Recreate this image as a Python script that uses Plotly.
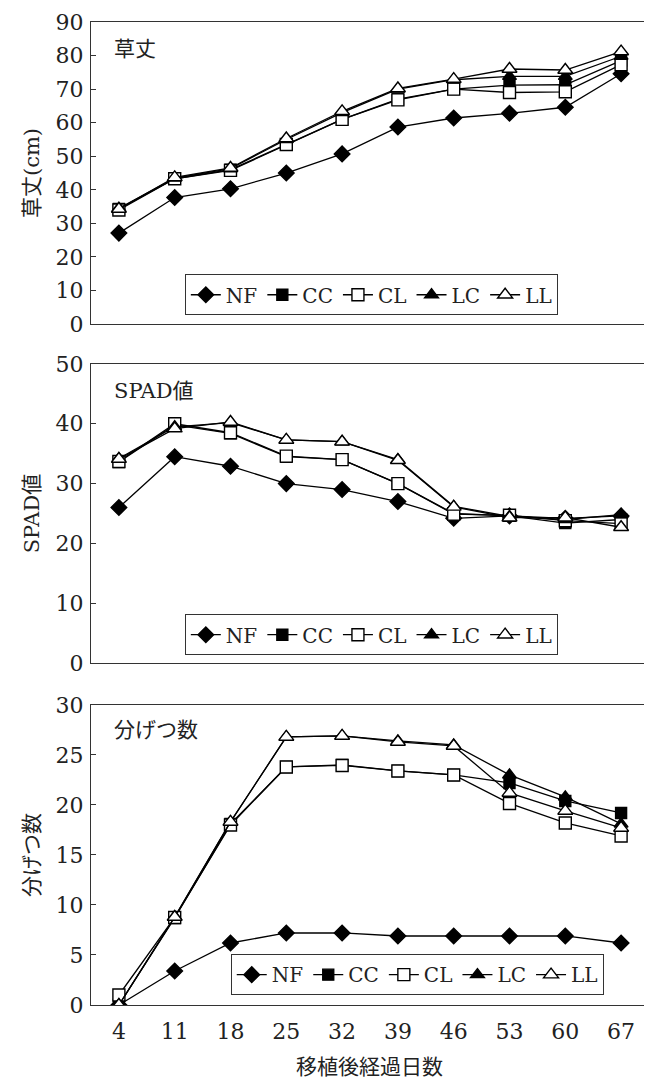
import plotly.graph_objects as go

days = ["4", "11", "18", "25", "32", "39", "46", "53", "60", "67"]
series_names = ["NF", "CC", "CL", "LC", "LL"]

# 草丈 (cm)
height_NF = [27.1, 37.7, 40.3, 45.0, 50.7, 58.7, 61.4, 62.8, 64.6, 74.6]
height_CC = [34.3, 43.3, 46.0, 53.5, 61.0, 67.0, 70.0, 71.2, 71.3, 78.5]
height_CL = [34.0, 43.3, 45.8, 53.5, 61.0, 66.8, 70.0, 69.0, 69.2, 77.3]
height_LC = [34.5, 43.5, 46.3, 55.0, 63.0, 70.0, 72.8, 73.8, 73.8, 79.8]
height_LL = [34.3, 43.7, 46.5, 55.3, 63.4, 70.2, 73.0, 76.0, 75.7, 81.2]

# SPAD値
spad_NF = [26.0, 34.5, 32.9, 30.0, 29.0, 27.0, 24.2, 24.6, 24.2, 24.6]
spad_CC = [33.6, 39.8, 38.4, 34.5, 34.0, 30.0, 25.0, 24.6, 23.4, 24.0]
spad_CL = [33.7, 40.0, 38.5, 34.6, 34.0, 30.0, 24.9, 24.7, 23.8, 23.3]
spad_LC = [34.2, 39.5, 40.2, 37.3, 37.0, 34.0, 26.2, 24.5, 24.0, 24.8]
spad_LL = [34.1, 39.2, 40.3, 37.3, 37.0, 33.9, 26.1, 24.3, 24.3, 22.7]

# 分げつ数
tiller_NF = [0.0, 3.4, 6.2, 7.2, 7.2, 6.9, 6.9, 6.9, 6.9, 6.2]
tiller_CC = [0.0, 8.7, 18.1, 23.8, 24.0, 23.4, 23.0, 22.2, 20.4, 19.2]
tiller_CL = [1.0, 8.75, 18.0, 23.8, 23.95, 23.4, 23.0, 20.15, 18.2, 16.9]
tiller_LC = [0.0, 8.8, 18.3, 26.8, 26.9, 26.4, 26.0, 23.0, 20.8, 18.1]
tiller_LL = [0.0, 8.8, 18.3, 26.8, 26.9, 26.3, 25.9, 21.2, 19.4, 17.7]

panels = [
    ("草丈", "草丈(cm)", [height_NF, height_CC, height_CL, height_LC, height_LL], 90, 10),
    ("SPAD値", "SPAD値", [spad_NF, spad_CC, spad_CL, spad_LC, spad_LL], 50, 10),
    ("分げつ数", "分げつ数", [tiller_NF, tiller_CC, tiller_CL, tiller_LC, tiller_LL], 30, 5),
]
x_title = "移植後経過日数"

symbols = ["diamond", "square", "square", "triangle-up", "triangle-up"]
fills = ["black", "black", "white", "black", "white"]
sizes = [12, 11, 12, 12, 13]

FONT = "'DejaVu Serif', 'Noto Sans CJK JP', serif"
OFF = 8  # page body margin
W, H = 652 - OFF, 1079 - OFF
L = 91 - OFF
T = 19 - OFF
R = W - (650 - OFF)
B = H - (1005 - OFF)
plot_h = H - T - B
plot_w = W - L - R


def py(px):
    return (H - B - (px - OFF)) / plot_h


def pxx(px):
    return (px - OFF - L) / plot_w


domains = [(py(322), py(19)), (py(662), py(362)), (py(1005), py(704))]
legend_pos = [(185, 272), (185, 613), (231, 954)]
label_y = [46, 389, 729]
TXT = "#222"

fig = go.Figure()
for i, (label, ytitle, data, ymax, dtick) in enumerate(panels):
    suffix = "" if i == 0 else str(i + 1)
    legname = "legend" + suffix
    for j, name in enumerate(series_names):
        fig.add_trace(go.Scatter(
            x=days, y=data[j], name=name, mode="lines+markers",
            xaxis="x" + suffix, yaxis="y" + suffix, legend=legname,
            line=dict(color="black", width=1.3),
            marker=dict(symbol=symbols[j], size=sizes[j], color=fills[j],
                        line=dict(color="black", width=1.4)),
        ))
    xa = dict(
        domain=[0, 1], anchor="y" + suffix, type="category",
        range=[-0.5, 9.5], showline=True, mirror=True, linecolor="#333",
        linewidth=1.3, ticks="", showgrid=False, zeroline=False,
        showticklabels=(i == 2), ticklabelstandoff=6,
        tickfont=dict(family=FONT, size=22, color=TXT),
    )
    ya = dict(
        domain=list(domains[i]), anchor="x" + suffix, range=[0, ymax], dtick=dtick,
        showline=True, mirror=True, linecolor="#333", linewidth=1.3,
        ticks="inside", ticklen=5, tickcolor="#333", showgrid=False, zeroline=False,
        tickfont=dict(family=FONT, size=22, color=TXT),
        title=dict(text=ytitle, font=dict(family=FONT, size=21, color=TXT), standoff=10),
        ticklabelstandoff=2,
    )
    fig.update_layout(**{"xaxis" + suffix: xa, "yaxis" + suffix: ya})
    lx, ly = legend_pos[i]
    fig.update_layout(**{legname: dict(
        x=pxx(lx), y=py(ly), xanchor="left", yanchor="top", orientation="h",
        bordercolor="#333", borderwidth=1, bgcolor="white",
        font=dict(family=FONT, size=20, color=TXT),
        itemwidth=30, tracegroupgap=0,
    )})
    fig.add_annotation(
        text=label, xref="paper", yref="paper", x=pxx(112), y=py(label_y[i]),
        xanchor="left", yanchor="middle", showarrow=False,
        font=dict(family=FONT, size=21, color=TXT),
    )

fig.add_annotation(
    text=x_title, xref="paper", yref="paper", x=pxx(370), y=py(1067),
    xanchor="center", yanchor="middle", showarrow=False,
    font=dict(family=FONT, size=21, color=TXT),
)

fig.update_layout(
    width=W, height=H, margin=dict(l=L, r=R, t=T, b=B),
    paper_bgcolor="white", plot_bgcolor="white", showlegend=True,
)
fig.write_html("out.html")
